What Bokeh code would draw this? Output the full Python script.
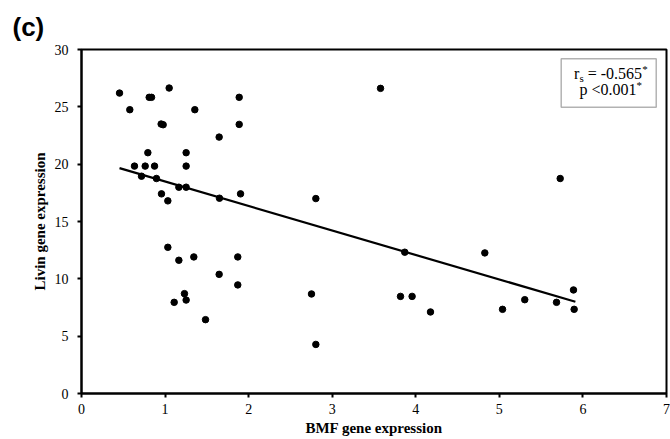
from bokeh.plotting import figure
from bokeh.models import Range1d, Label, BoxAnnotation, FixedTicker
from bokeh.embed import file_html
from bokeh.resources import INLINE

# ---- data ----
bmf = [0.455, 0.578, 0.634, 0.718, 0.762, 0.794, 0.810, 0.838, 0.874, 0.897,
       0.953, 0.977, 0.957, 1.033, 1.049, 1.165, 1.252, 1.252, 1.252, 1.356,
       1.647, 1.651, 1.887, 1.887, 1.903,
       1.033, 1.165, 1.344, 1.647, 1.870, 1.870, 1.232, 1.252, 1.109, 1.484,
       3.578, 2.804, 5.728,
       3.868, 4.826, 2.752, 2.804, 3.817, 3.956, 4.176, 5.038, 5.304, 5.684,
       5.887, 5.895]
livin = [26.2, 24.75, 19.83, 18.95, 19.83, 21.0, 25.83, 25.83, 19.83, 18.75,
         23.5, 23.44, 17.41, 16.8, 26.64, 17.99, 17.99, 21.0, 19.83, 24.75,
         22.36, 17.03, 25.83, 23.47, 17.41,
         12.75, 11.62, 11.91, 10.39, 11.91, 9.47, 8.71, 8.15, 7.95, 6.44,
         26.61, 17.0, 18.75,
         12.32, 12.26, 8.68, 4.28, 8.47, 8.47, 7.11, 7.34, 8.18, 7.95,
         9.03, 7.34]

trend_x = [0.455, 5.91]
trend_y = [19.65, 8.0]

x_ticks = [0, 1, 2, 3, 4, 5, 6, 7]
y_ticks = [0, 5, 10, 15, 20, 25, 30]

x_label = "BMF gene expression"
y_label = "Livin gene expression"
panel_label = "(c)"
stat_r = "= -0.565"
stat_p = "p <0.001"

SERIF = "Liberation Serif"

p = figure(width=670, height=439, x_range=Range1d(0, 7), y_range=Range1d(0, 30),
           output_backend="svg", toolbar_location=None,
           min_border_left=81, min_border_right=4, min_border_top=49, min_border_bottom=46)
p.xgrid.visible = False
p.ygrid.visible = False
p.outline_line_color = "black"
p.outline_line_width = 2
p.background_fill_color = "white"
p.border_fill_color = "white"

p.title.text = panel_label
p.title.align = "left"
p.title.offset = -69
p.title.standoff = 16
p.title.text_font = "Liberation Sans"
p.title.text_font_size = "26px"
p.title.text_font_style = "bold"
p.title.text_color = "black"

p.xaxis.ticker = FixedTicker(ticks=x_ticks)
p.yaxis.ticker = FixedTicker(ticks=y_ticks)
for ax in (p.xaxis, p.yaxis):
    ax.axis_line_color = "black"
    ax.axis_line_width = 2
    ax.major_tick_line_color = "black"
    ax.major_tick_line_width = 2
    ax.major_tick_out = 4
    ax.major_tick_in = 0
    ax.minor_tick_line_color = None
    ax.major_label_text_font = SERIF
    ax.major_label_text_font_size = "14px"
    ax.major_label_text_color = "black"
    ax.axis_label_text_font = SERIF
    ax.axis_label_text_font_size = "15px"
    ax.axis_label_text_font_style = "bold"
    ax.axis_label_text_color = "black"
p.xaxis.major_label_standoff = 6
p.yaxis.major_label_standoff = 9
p.xaxis.axis_label = x_label
p.yaxis.axis_label = y_label
p.xaxis.axis_label_standoff = 3
p.yaxis.axis_label_standoff = 4

p.line(trend_x, trend_y, line_color="black", line_width=2.2)
p.scatter(bmf, livin, size=6.5, color="black")

# stats box
p.add_layout(BoxAnnotation(left=5.74, right=6.877, top=29.19, bottom=24.97,
                           fill_color="white", fill_alpha=1.0,
                           line_color="black", line_width=1.5))
cx = 6.334
y1, y2 = 27.88, 26.48
def lab(text, x, y, xo=0, yo=0, size="16px", align="left"):
    p.add_layout(Label(x=x, y=y, x_offset=xo, y_offset=yo, text=text,
                       text_font=SERIF, text_font_size=size, text_color="black",
                       text_align=align, text_baseline="middle"))
lab("r", cx, y1, xo=-36.8)
lab("s", cx, y1, xo=-31.4, yo=-4, size="11px")
lab(stat_r, cx, y1, xo=-23.1)
lab("*", cx, y1, xo=31.3, yo=5, size="11px")
lab(stat_p, cx, y2, xo=-31.3)
lab("*", cx, y2, xo=25.7, yo=5, size="11px")

open("out.html", "w").write(file_html(p, INLINE))
